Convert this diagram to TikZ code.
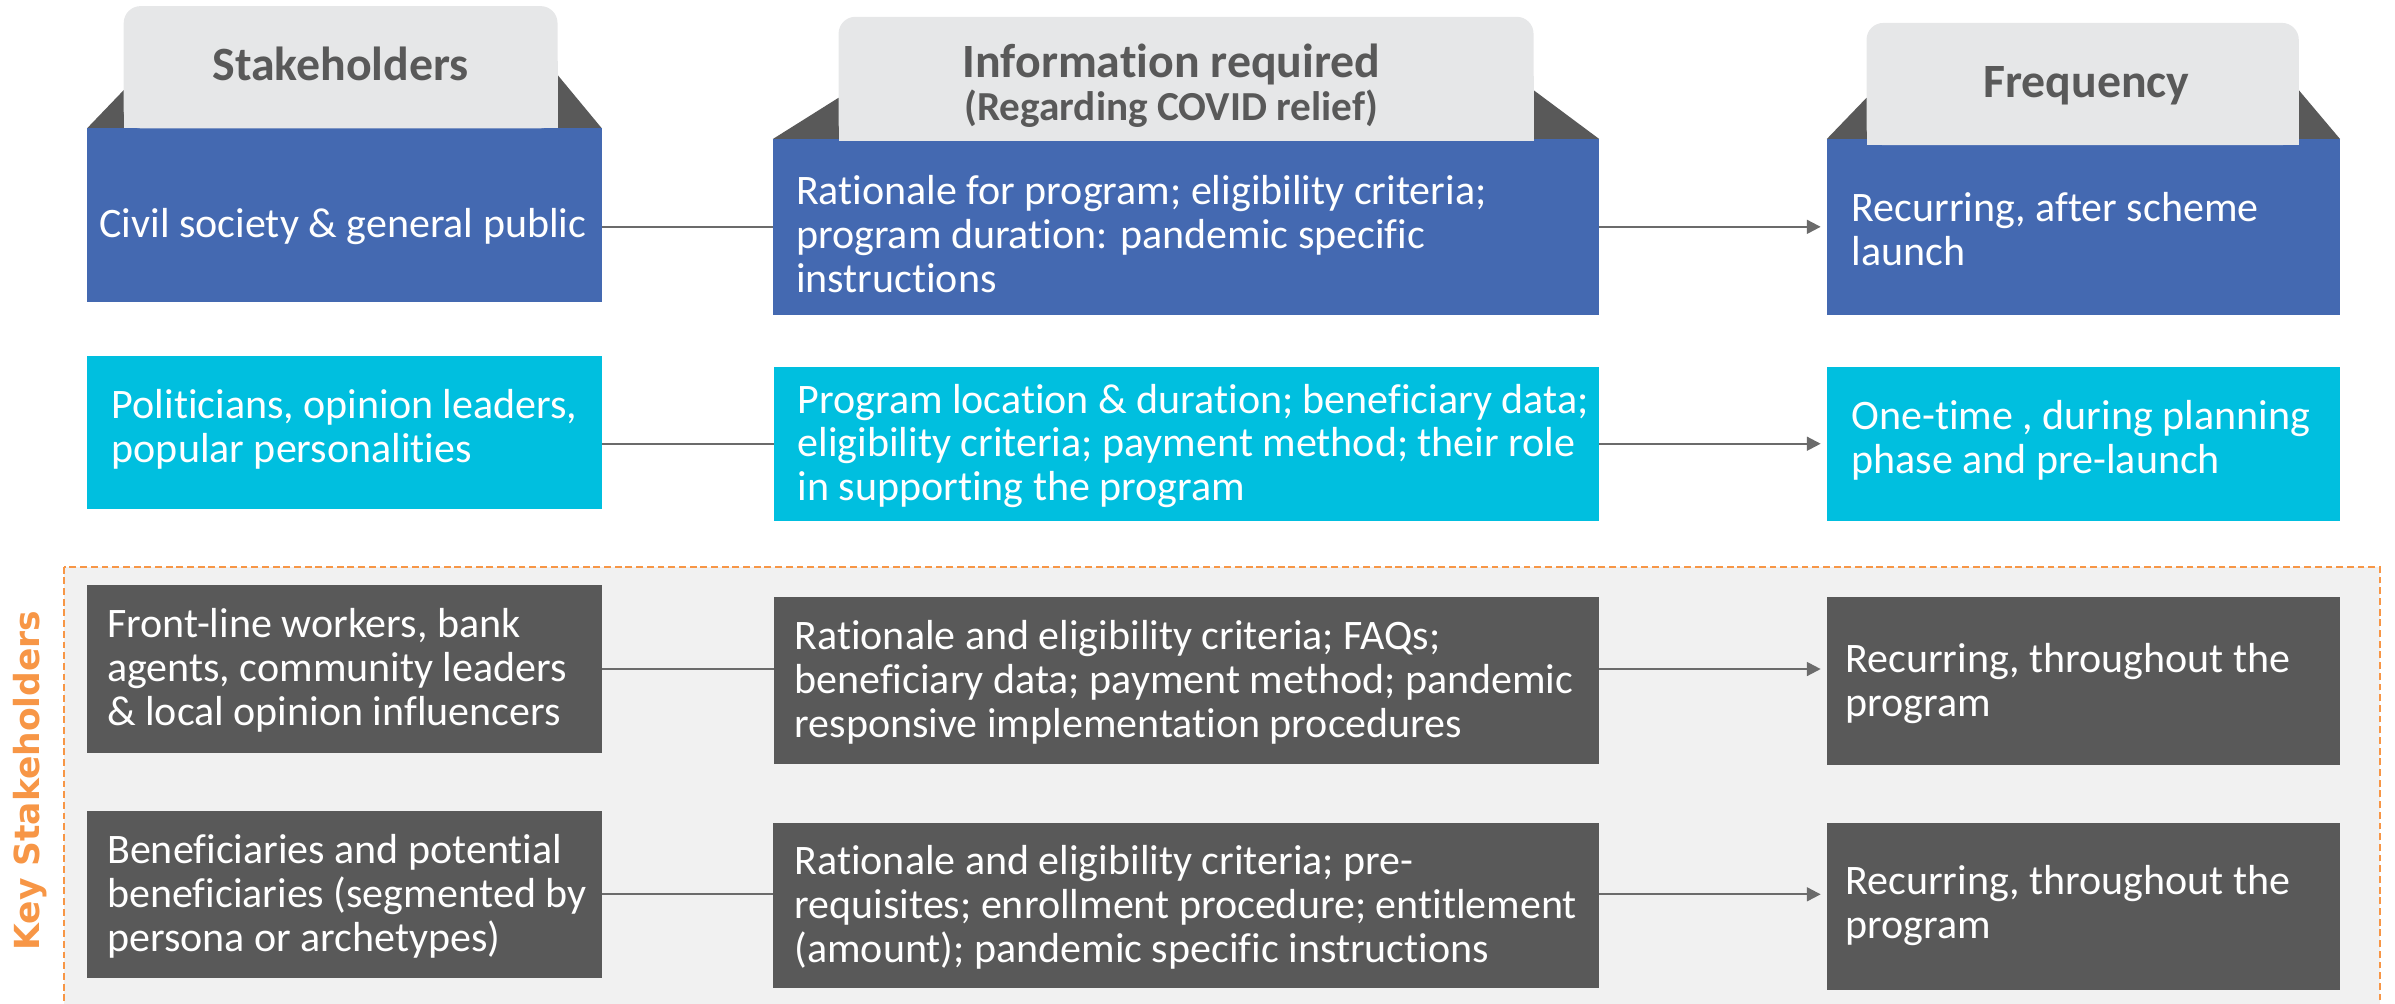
\documentclass[tikz,border=0pt]{standalone}
\usepackage{fontspec}
\setmainfont{Carlito}[Ligatures={NoCommon,NoContextual}]
\newfontfamily\keyfont{DejaVu Sans}
\usetikzlibrary{arrows.meta}
\definecolor{boxblue}{HTML}{4469B1}
\definecolor{boxcyan}{HTML}{00BFDF}
\definecolor{boxdark}{HTML}{595959}
\definecolor{tabgray}{HTML}{E6E7E8}
\definecolor{tabdark}{HTML}{595959}
\definecolor{headgray}{HTML}{595959}
\definecolor{linegray}{HTML}{6B6B6B}
\definecolor{keyorange}{HTML}{F79646}
\definecolor{regionfill}{HTML}{F1F1F1}
\begin{document}
\begin{tikzpicture}[x=1pt,y=-1pt,
  panel/.style={draw=none, anchor=north west, inner sep=0pt, outer sep=0pt},
  txt/.style={anchor=west, align=left, inner sep=0pt, text=white,
    font=\fontsize{27.5}{28.8}\selectfont},
  hd/.style={text=headgray, inner sep=0pt, anchor=base,
    font=\bfseries\fontsize{31.3}{33}\selectfont},
  conn/.style={draw=linegray, line width=1.4pt},
  arr/.style={conn, -{Triangle[length=9pt,width=9pt]}, shorten >=4pt},
  region/.style={draw=keyorange, fill=regionfill, line width=1.5pt,
    dash pattern=on 4.5pt off 2.5pt}]
\useasboundingbox (0,0) rectangle (1568,657);
\clip (0,0) rectangle (1568,657);

% highlighted block of key stakeholders
\draw[region] (42,371) rectangle (1558,700);
\node[rotate=90, inner sep=0pt, text=keyorange,
  font=\keyfont\bfseries\fontsize{22.6}{24}\selectfont] (key) at (20,511) {Key Stakeholders};

% column headers: dark flaps behind light tabs
\fill[tabdark] (57,84) -- (81,59) -- (365,49) -- (394,84) -- cycle;
\fill[tabdark] (506,91) -- (549,64) -- (1004,59) -- (1047,91) -- cycle;
\fill[tabdark] (1196,91) -- (1222,64) -- (1505,59) -- (1532,91) -- cycle;

% row 1
\node[panel, fill=boxblue, minimum width=337, minimum height=114] (s1) at (57,84) {};
\node[panel, fill=boxblue, minimum width=541, minimum height=115] (i1) at (506,91) {};
\node[panel, fill=boxblue, minimum width=336, minimum height=115] (f1) at (1196,91) {};

% header tabs
\fill[tabgray, rounded corners=11pt] (81,4) rectangle (365,84);
\fill[tabgray] (81,40) rectangle (365,84);
\fill[tabgray, rounded corners=11pt] (549,11) rectangle (1004,92);
\fill[tabgray] (549,50) rectangle (1004,92);
\fill[tabgray, rounded corners=11pt] (1222,15) rectangle (1505,95);
\fill[tabgray] (1222,50) rectangle (1505,95);

\node[hd] (h1) at (223,53) {Stakeholders};
\node[hd] (h2) at (767,50.6) {Information required};
\node[hd, font=\bfseries\fontsize{27}{28}\selectfont] (h2b) at (767,79) {(Regarding COVID relief)};
\node[hd] (h3) at (1366,64) {Frequency};

% row 2
\node[panel, fill=boxcyan, minimum width=337, minimum height=100] (s2) at (57,233) {};
\node[panel, fill=boxcyan, minimum width=540, minimum height=101] (i2) at (507,240) {};
\node[panel, fill=boxcyan, minimum width=336, minimum height=101] (f2) at (1196,240) {};

% row 3
\node[panel, fill=boxdark, minimum width=337, minimum height=110] (s3) at (57,383) {};
\node[panel, fill=boxdark, minimum width=540, minimum height=109] (i3) at (507,391) {};
\node[panel, fill=boxdark, minimum width=336, minimum height=110] (f3) at (1196,391) {};

% row 4
\node[panel, fill=boxdark, minimum width=337, minimum height=109] (s4) at (57,531) {};
\node[panel, fill=boxdark, minimum width=541, minimum height=108] (i4) at (506,539) {};
\node[panel, fill=boxdark, minimum width=336, minimum height=109] (f4) at (1196,539) {};

% box texts
\node[txt] (s1t) at (65,148) {Civil society \& general public};
\node[txt] (i1t) at (521,153) {Rationale for program; eligibility criteria;\\program duration: pandemic specific\\instructions};
\node[txt] (f1t) at (1212,150) {Recurring, after scheme\\launch};
\node[txt] (s2t) at (73,281) {Politicians, opinion leaders,\\popular personalities};
\node[txt] (i2t) at (522,292) {Program location \& duration; beneficiary data;\\eligibility criteria; payment method; their role\\in supporting the program};
\node[txt] (f2t) at (1212,288) {One-time , during planning\\phase and pre-launch};
\node[txt] (s3t) at (70,439) {Front-line workers, bank\\agents, community leaders\\\& local opinion influencers};
\node[txt] (i3t) at (520,446.5) {Rationale and eligibility criteria; FAQs;\\beneficiary data; payment method; pandemic\\responsive implementation procedures};
\node[txt] (f3t) at (1208,447.5) {Recurring, throughout the\\program};
\node[txt] (s4t) at (70,586.5) {Beneficiaries and potential\\beneficiaries (segmented by\\persona or archetypes)};
\node[txt] (i4t) at (520,594) {Rationale and eligibility criteria; pre-\\requisites; enrollment procedure; entitlement\\(amount); pandemic specific instructions};
\node[txt] (f4t) at (1208,593) {Recurring, throughout the\\program};

% connectors
\draw[conn] (s1.east |- i1.west) -- (i1.west);
\draw[arr] (i1.east) -- (f1.west |- i1.east);
\draw[conn] (s2.east |- i2.west) -- (i2.west);
\draw[arr] (i2.east) -- (f2.west |- i2.east);
\draw[conn] (s3.east) -- (i3.west |- s3.east);
\draw[arr] (i3.east |- s3.east) -- (f3.west |- s3.east);
\draw[conn] (s4.east) -- (i4.west |- s4.east);
\draw[arr] (i4.east |- s4.east) -- (f4.west |- s4.east);
\end{tikzpicture}
\end{document}
